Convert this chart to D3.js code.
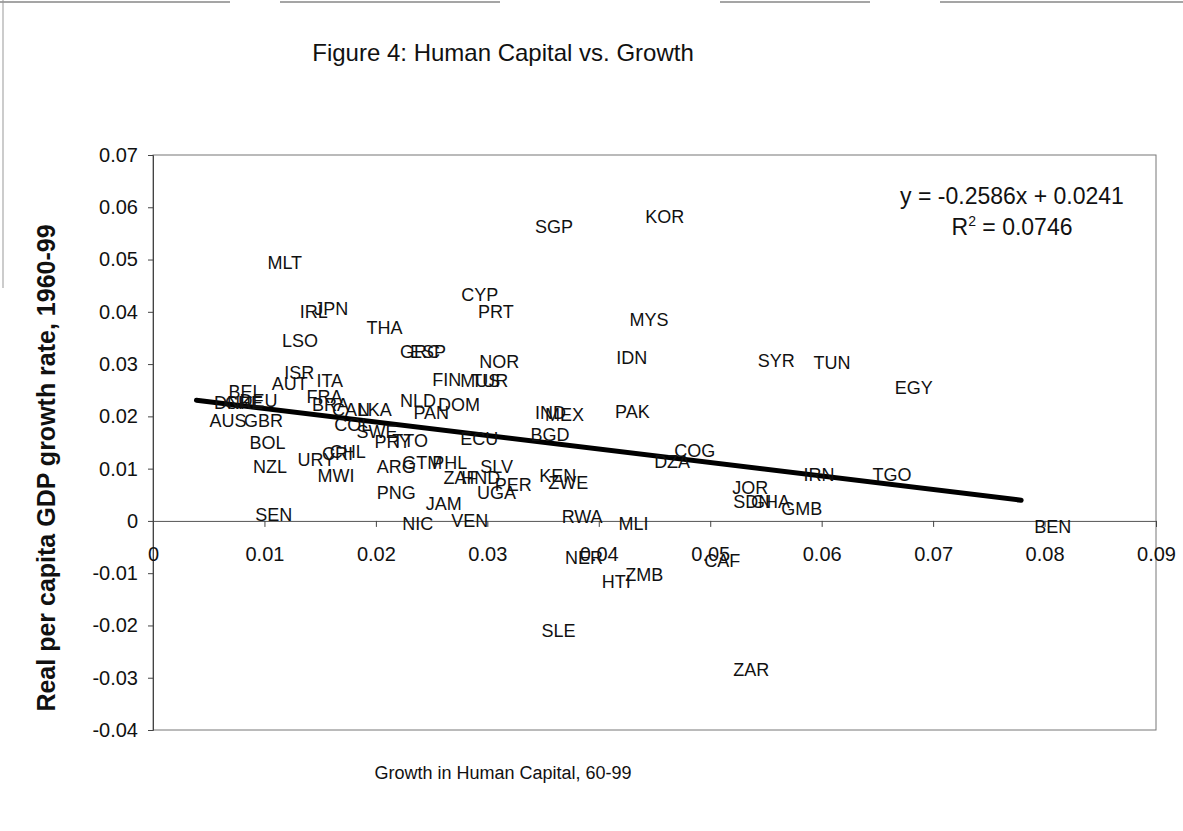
<!DOCTYPE html>
<html>
<head>
<meta charset="utf-8">
<script src="https://cdn.jsdelivr.net/npm/d3@7"></script>
<style>
  body { margin: 0; background: #fff; }
  svg { font-family: 'Liberation Sans', Arial, sans-serif; }
</style>
</head>
<body>
<svg id="chart" width="1183" height="831"></svg>
<script>
// country codes and values (growth in human capital, GDP growth)
const codes = ['MLT', 'IRL', 'JPN', 'THA', 'LSO', 'GRC', 'ESP', 'CYP', 'PRT', 'NOR',
  'FIN', 'MUS', 'TUR', 'ISR', 'AUT', 'ITA', 'BEL', 'DNK', 'CHE', 'DEU',
  'AUS', 'GBR', 'BOL', 'NZL', 'URY', 'CRI', 'CHL', 'MWI', 'SEN', 'FRA',
  'BRA', 'CAN', 'LKA', 'COL', 'SWE', 'NLD', 'DOM', 'PAN', 'PRY', 'TTO',
  'ECU', 'ARG', 'GTM', 'PHL', 'ZAF', 'HND', 'SLV', 'PER', 'UGA', 'PNG',
  'JAM', 'NIC', 'VEN', 'IND', 'MEX', 'BGD', 'PAK', 'KEN', 'ZWE', 'RWA',
  'MLI', 'COG', 'DZA', 'IDN', 'MYS', 'SGP', 'KOR', 'SYR', 'TUN', 'EGY',
  'IRN', 'TGO', 'JOR', 'SDN', 'GHA', 'GMB', 'BEN', 'NER', 'HTI', 'ZMB',
  'CAF', 'SLE', 'ZAR'];

const humanCap = [0.0091, 0.0120, 0.0133, 0.0180, 0.0104, 0.0210, 0.0219, 0.0265, 0.0280, 0.0281,
  0.0239, 0.0264, 0.0274, 0.0106, 0.0095, 0.0135, 0.0056, 0.0043, 0.0053, 0.0066,
  0.0039, 0.0070, 0.0075, 0.0078, 0.0118, 0.0140, 0.0147, 0.0136, 0.0080, 0.0126,
  0.0131, 0.0149, 0.0172, 0.0151, 0.0171, 0.0210, 0.0244, 0.0222, 0.0187, 0.0203,
  0.0264, 0.0189, 0.0212, 0.0239, 0.0249, 0.0265, 0.0282, 0.0295, 0.0279, 0.0189,
  0.0233, 0.0212, 0.0256, 0.0331, 0.0340, 0.0327, 0.0403, 0.0335, 0.0343, 0.0355,
  0.0406, 0.0456, 0.0438, 0.0404, 0.0416, 0.0331, 0.0430, 0.0531, 0.0581, 0.0654,
  0.0572, 0.0634, 0.0508, 0.0509, 0.0525, 0.0552, 0.0779, 0.0358, 0.0391, 0.0412,
  0.0483, 0.0337, 0.0509];

const gdpGrowth = [0.0494, 0.0400, 0.0406, 0.0369, 0.0344, 0.0323, 0.0323, 0.0432, 0.0400, 0.0304,
  0.0270, 0.0268, 0.0268, 0.0283, 0.0262, 0.0268, 0.0247, 0.0226, 0.0226, 0.0230,
  0.0191, 0.0191, 0.0149, 0.0103, 0.0117, 0.0128, 0.0132, 0.0086, 0.0011, 0.0237,
  0.0222, 0.0212, 0.0212, 0.0184, 0.0170, 0.0230, 0.0222, 0.0207, 0.0151, 0.0153,
  0.0157, 0.0103, 0.0111, 0.0111, 0.0082, 0.0082, 0.0103, 0.0069, 0.0054, 0.0054,
  0.0033, -0.0006, 0.0000, 0.0207, 0.0203, 0.0165, 0.0209, 0.0086, 0.0073, 0.0008,
  -0.0006, 0.0134, 0.0113, 0.0312, 0.0385, 0.0562, 0.0582, 0.0306, 0.0302, 0.0254,
  0.0088, 0.0088, 0.0063, 0.0036, 0.0036, 0.0023, -0.0011, -0.0071, -0.0117, -0.0103,
  -0.0077, -0.0210, -0.0285];

const xTicks = [0, 0.01, 0.02, 0.03, 0.04, 0.05, 0.06, 0.07, 0.08, 0.09];
const yTicks = [0.07, 0.06, 0.05, 0.04, 0.03, 0.02, 0.01, 0, -0.01, -0.02, -0.03, -0.04];
const trendSlope = -0.2586;
const trendIntercept = 0.0241;
const rSquared = 0.0746;

const data = codes.map((c, i) => ({ code: c, x: humanCap[i], y: gdpGrowth[i] }));

const svg = d3.select('#chart');
const margin = { top: 155, right: 27, bottom: 101, left: 153 };
const width = +svg.attr('width') - margin.left - margin.right;
const height = +svg.attr('height') - margin.top - margin.bottom;

const fmt = d => (d === 0 ? '0' : d3.format('.2f')(d).replace('−', '-'));

// outer chart frame (only partly visible in the scan)
svg.append('line')
    .attr('x1', 0).attr('x2', 1183).attr('y1', 2).attr('y2', 2)
    .attr('stroke', '#888').attr('stroke-width', 1.5)
    .attr('stroke-dasharray', '230,50,220,220,150,70,250');
svg.append('line')
    .attr('x1', 3).attr('x2', 3).attr('y1', 0).attr('y2', 288)
    .attr('stroke', '#999').attr('stroke-width', 1);

svg.append('text')
    .attr('x', 503)
    .attr('y', 61)
    .attr('text-anchor', 'middle')
    .attr('font-size', 24)
    .attr('fill', '#111')
    .text('Figure 4: Human Capital vs. Growth');

const g = svg.append('g')
    .attr('transform', `translate(${margin.left},${margin.top})`);

const x = d3.scaleLinear()
    .domain([0, 0.09])
    .range([0, width]);

const y = d3.scaleLinear()
    .domain([-0.04, 0.07])
    .range([height, 0]);

// plot frame
g.append('rect')
    .attr('width', width)
    .attr('height', height)
    .attr('fill', 'none')
    .attr('stroke', '#777')
    .attr('stroke-width', 1);

// y axis
const yAxis = g.append('g')
    .call(d3.axisLeft(y)
      .tickValues(yTicks)
      .tickSize(5)
      .tickPadding(10));
yAxis.select('.domain').attr('stroke', '#444');
yAxis.selectAll('.tick line').attr('stroke', '#444');
yAxis.selectAll('.tick text')
    .attr('font-size', 20)
    .attr('fill', '#111')
    .attr('font-family', "'Liberation Sans', Arial, sans-serif")
    .text(fmt);

// x axis at y = 0
const xAxis = g.append('g')
    .attr('transform', `translate(0,${y(0)})`)
    .call(d3.axisBottom(x)
      .tickValues(xTicks)
      .tickSize(6)
      .tickPadding(20));
xAxis.select('.domain').attr('stroke', '#555');
xAxis.selectAll('.tick line').attr('stroke', '#444');
xAxis.selectAll('.tick text')
    .attr('font-size', 20)
    .attr('fill', '#111')
    .attr('font-family', "'Liberation Sans', Arial, sans-serif")
    .text(fmt);

// trend line over the data range
const xExt = d3.extent(data, d => d.x);
g.append('line')
    .attr('x1', x(xExt[0]))
    .attr('y1', y(trendSlope * xExt[0] + trendIntercept))
    .attr('x2', x(xExt[1]))
    .attr('y2', y(trendSlope * xExt[1] + trendIntercept))
    .attr('stroke', '#000')
    .attr('stroke-width', 5)
    .attr('stroke-linecap', 'round');

// country labels, placed right of each (invisible) point
g.selectAll('.country')
  .data(data)
  .enter()
  .append('text')
    .attr('class', 'country')
    .attr('x', d => x(d.x) + 13)
    .attr('y', d => y(d.y))
    .attr('dy', '0.35em')
    .attr('font-size', 18)
    .attr('fill', '#111')
    .text(d => d.code);

// regression equation
const eq = g.append('text')
    .attr('x', 859)
    .attr('y', 49)
    .attr('text-anchor', 'middle')
    .attr('font-size', 23)
    .attr('fill', '#111');
eq.text(`y = ${trendSlope}x + ${trendIntercept}`);

const r2 = g.append('text')
    .attr('x', 859)
    .attr('y', 80)
    .attr('text-anchor', 'middle')
    .attr('font-size', 23)
    .attr('fill', '#111');
r2.append('tspan').text('R');
r2.append('tspan').attr('dy', -9).attr('font-size', 14).text('2');
r2.append('tspan').attr('dy', 9).text(` = ${rSquared}`);

// axis titles
svg.append('text')
    .attr('transform', 'translate(55,468) rotate(-90)')
    .attr('text-anchor', 'middle')
    .attr('font-size', 25)
    .attr('font-weight', 'bold')
    .attr('fill', '#111')
    .text('Real per capita GDP growth rate, 1960-99');

svg.append('text')
    .attr('x', 503)
    .attr('y', 779)
    .attr('text-anchor', 'middle')
    .attr('font-size', 18)
    .attr('fill', '#111')
    .text('Growth in Human Capital, 60-99');
</script>
</body>
</html>
